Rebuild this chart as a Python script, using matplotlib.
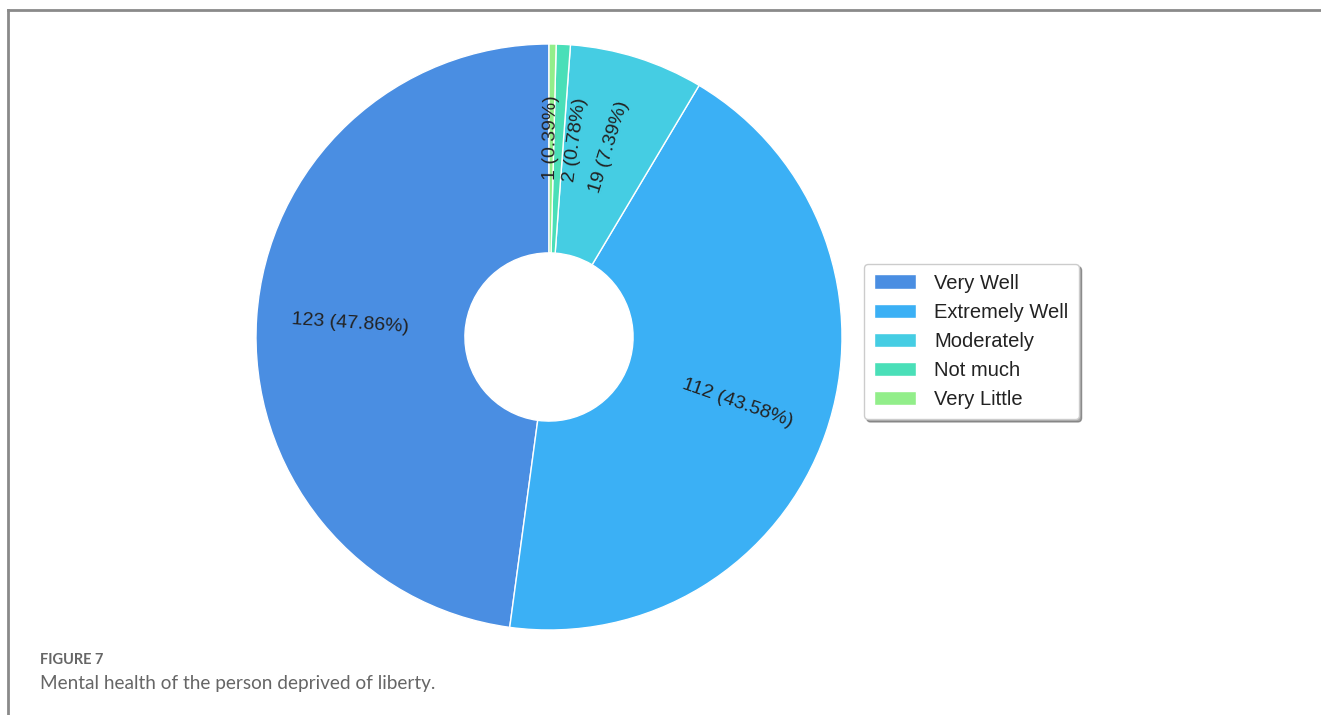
import matplotlib
matplotlib.use('agg')
import matplotlib.pyplot as plt
from matplotlib.lines import Line2D
import numpy as np

# Mental health responses
categories = ["Very Well", "Extremely Well", "Moderately", "Not much", "Very Little"]
counts = [123, 112, 19, 2, 1]
colors = ["#4A8EE2", "#3BB0F5", "#45CDE3", "#4ADFB8", "#92EE8A"]

caption_title = "FIGURE 7"
caption_text = "Mental health of the person deprived of liberty."

plt.rcParams['font.family'] = ['Liberation Sans', 'DejaVu Sans']

total = sum(counts)
label_r = 0.68
min_gap = 7.0  # degrees between neighbouring value labels


def fmt_label(pct):
    n = int(round(pct * total / 100.0))
    return "%d (%.2f%%)" % (n, pct)


fig = plt.figure(figsize=(13.21, 7.15), dpi=100)
ax = fig.add_axes([256 / 1321, 1 - 630 / 715, 586 / 1321, 586 / 715])

wedges, texts, autotexts = ax.pie(
    counts, colors=colors, startangle=90, counterclock=True,
    autopct=fmt_label, pctdistance=label_r,
    wedgeprops=dict(width=0.713, edgecolor="white", linewidth=1),
    textprops=dict(fontsize=14, color="#222222"))
ax.set_xlim(-1, 1)
ax.set_ylim(-1, 1)
ax.set_aspect('equal')

# label angles at wedge middles, walking clockwise from the top and
# pushing the tiny slices' labels apart so they don't overlap
angles = [(w.theta1 + w.theta2) / 2.0 for w in wedges]
prev = None
for i in reversed(range(len(wedges))):
    if prev is not None and prev - angles[i] < min_gap:
        angles[i] = prev - min_gap
    prev = angles[i]

for ang, t in zip(angles, autotexts):
    a = np.deg2rad(ang)
    t.set_position((label_r * np.cos(a), label_r * np.sin(a)))
    ang = ang % 360
    rot = ang - 180 if 90 < ang < 270 else ang
    if rot > 180:
        rot -= 360
    t.set_rotation(rot)
    t.set_rotation_mode('anchor')
    t.set_ha('center')
    t.set_va('center')

leg = fig.legend(wedges, categories, loc='center left',
                 bbox_to_anchor=(864 / 1321, 1 - 341.5 / 715),
                 borderaxespad=0, fontsize=14.5, labelcolor="#222222",
                 frameon=True, shadow=True, fancybox=True,
                 handlelength=2.1, handleheight=0.75, labelspacing=0.5,
                 handletextpad=0.9, borderpad=0.5)
leg.get_frame().set_edgecolor("#cccccc")

# journal frame and caption
fig.add_artist(Line2D([8 / 1321, 1], [1 - 10 / 715, 1 - 10 / 715],
                      color="#8a8a8a", linewidth=2))
fig.add_artist(Line2D([8 / 1321, 8 / 1321], [0, 1 - 10 / 715],
                      color="#8a8a8a", linewidth=2))
fig.text(40 / 1321, 1 - 660 / 715, caption_title, fontsize=10.5,
         color="#666666", family=['Lato', 'DejaVu Sans'], weight='bold',
         va='center')
fig.text(40 / 1321, 1 - 684 / 715, caption_text, fontsize=13.7,
         color="#666666", family=['Lato', 'DejaVu Sans'], va='center')

fig.savefig("out.png", dpi=100)
